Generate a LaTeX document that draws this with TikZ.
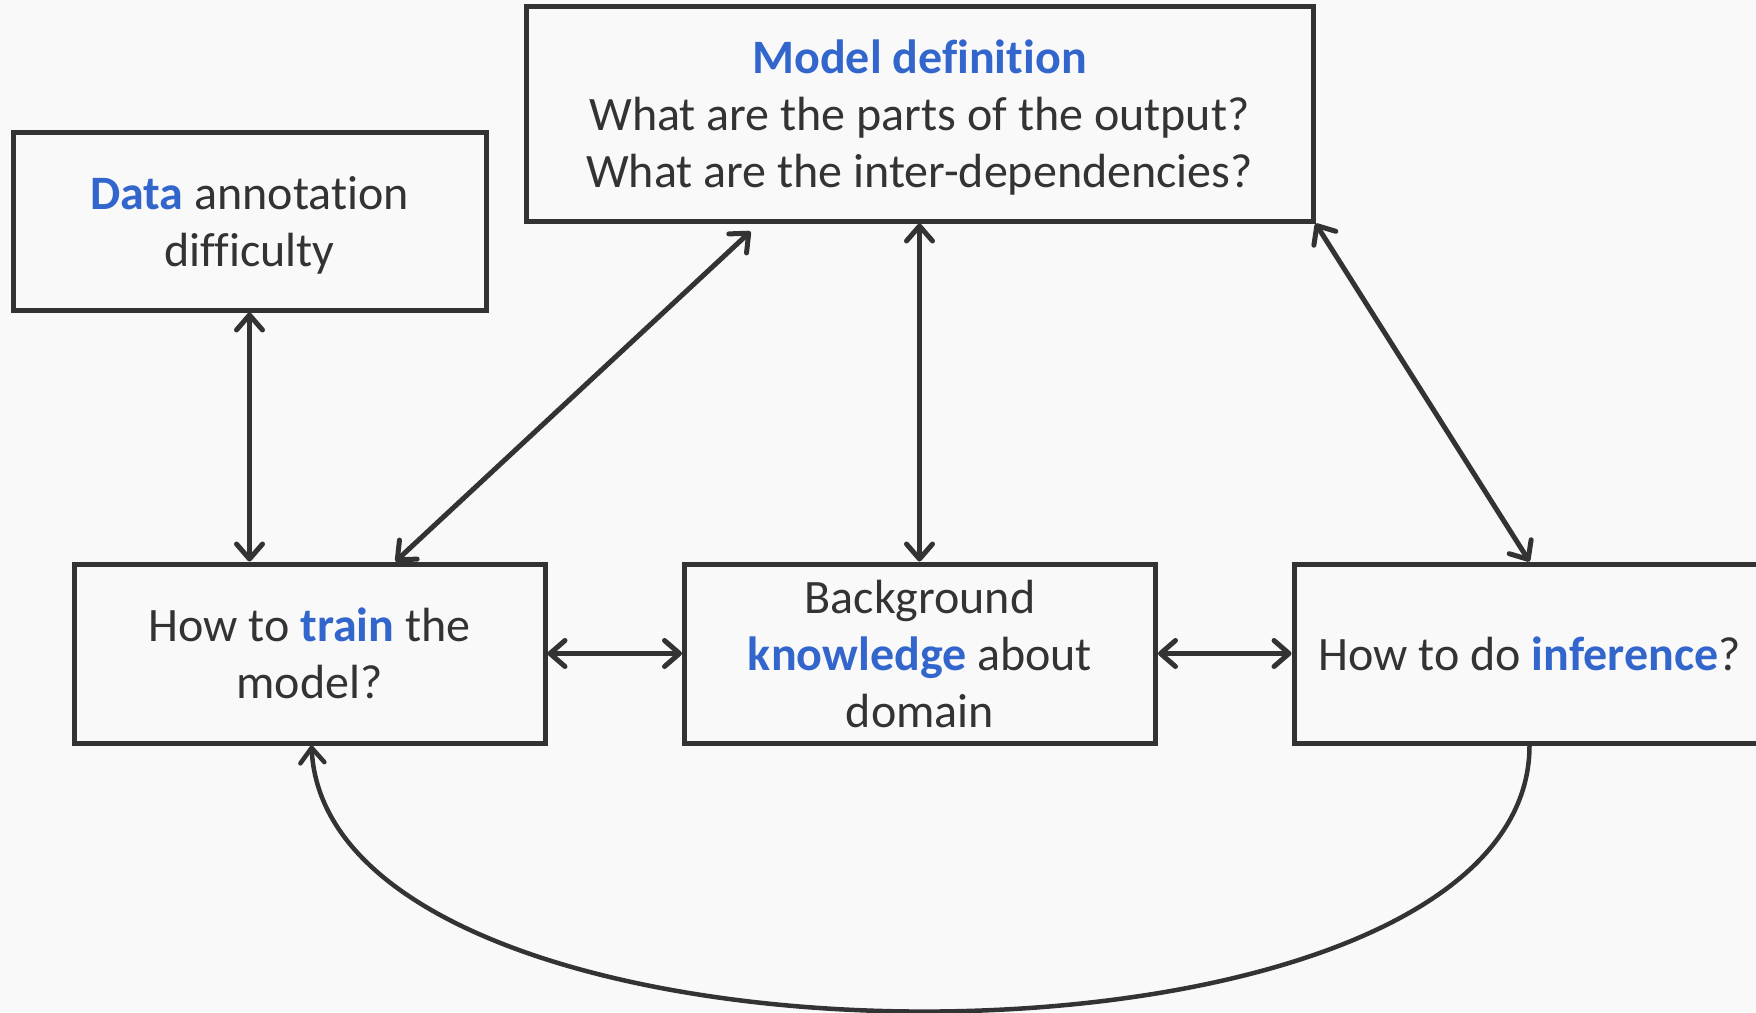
\documentclass[tikz,border=0pt]{standalone}
\usepackage{fontspec}
\setmainfont{Carlito}[Ligatures=NoCommon]
\usetikzlibrary{arrows.meta,calc}
\definecolor{ink}{HTML}{333333}
\definecolor{accent}{HTML}{3366CC}
\definecolor{paper}{HTML}{F9F9F9}
\newcommand{\hl}[1]{\textbf{\color{accent}#1}}
\begin{document}
\begin{tikzpicture}[x=1pt,y=-1pt,
  box/.style={draw=ink, line width=5pt, fill=paper, align=center,
    text=ink, inner sep=0pt, minimum height=179pt, minimum width=471pt,
    text depth=0pt, font=\fontsize{48}{57}\selectfont},
  link/.style={draw=ink, line width=5pt,
    arrows={Straight Barb[length=15pt,width=26pt,round]-Straight Barb[length=15pt,width=26pt,round]}},
  oneway/.style={draw=ink, line width=4.5pt,
    arrows={-Straight Barb[length=15pt,width=24pt,round]}}]
\useasboundingbox (0,0) rectangle (1756,1012);
\clip (0,0) rectangle (1756,1012);
\fill[paper] (0,0) rectangle (1756,1012);

% boxes
\node[box, minimum width=787pt, minimum height=215pt] (model) at (919.5,113.5)
  {\hl{Model definition}\\What are the parts of the output?\\What are the inter-dependencies?};
\node[box, minimum width=473pt, minimum height=178pt] (data) at (249.5,221)
  {\hl{Data} annotation\\difficulty};
\node[box] (train) at (309.5,653.5) {How to \hl{train} the\\model?};
\node[box] (bg) at (920,653.5) {Background\\\hl{knowledge} about\\domain};
\node[box] (inf) at (1529.5,653.5) {How to do \hl{inference}?};

% connectors
\draw[link] (data.south) -- (data.south |- train.north);
\draw[link] ($(model.south west)+(227,8)$) -- ($(train.north west)+(324,0)$);
\draw[link] (model.south) -- (model.south |- bg.north);
\draw[link] (model.south east) -- (inf.north);
\draw[link] (train.east) -- (bg.west);
\draw[link] (bg.east) -- (inf.west);
\draw[oneway] (inf.south) .. controls +(0,354) and ($(train.south)+(20,354)$) .. ($(train.south)+(2,0)$);
\end{tikzpicture}
\end{document}
